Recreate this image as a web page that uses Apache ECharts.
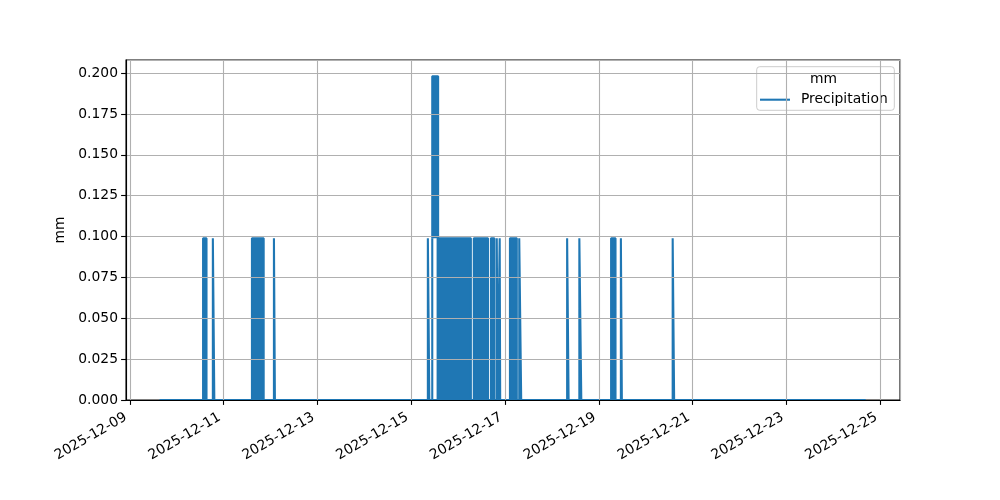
<!DOCTYPE html>
<html>
<head>
<meta charset="utf-8">
<script src="https://cdn.jsdelivr.net/npm/echarts@6/dist/echarts.min.js"></script>
<style>
html,body{margin:0;padding:0;background:#fff;}
#chart{width:1000px;height:500px;}
</style>
</head>
<body>
<div id="chart"></div>
<script>
// Precipitation record (mm): the line sits at 0 from the first to the last sample,
// and rises to the given amount during each rainy spell.
const seriesStart = '2025-12-09 15:15';
const seriesEnd = '2025-12-24 16:30';

const rainStart = ['2025-12-10 13:30','2025-12-10 18:30','2025-12-11 14:30','2025-12-12 01:45',
  '2025-12-15 08:30','2025-12-15 10:45','2025-12-15 13:30','2025-12-16 08:00','2025-12-16 16:45',
  '2025-12-16 19:45','2025-12-16 21:15','2025-12-17 02:30','2025-12-17 07:15','2025-12-18 07:45',
  '2025-12-18 14:00','2025-12-19 06:15','2025-12-19 11:15','2025-12-20 13:45'];
const rainEnd = ['2025-12-10 15:15','2025-12-10 19:15','2025-12-11 20:30','2025-12-12 02:15',
  '2025-12-15 09:15','2025-12-15 10:45','2025-12-16 06:30','2025-12-16 15:15','2025-12-16 18:30',
  '2025-12-16 20:15','2025-12-16 21:30','2025-12-17 06:00','2025-12-17 08:15','2025-12-18 08:30',
  '2025-12-18 15:00','2025-12-19 08:30','2025-12-19 11:45','2025-12-20 14:30'];
const rainAmount = [0.099,0.099,0.099,0.099,0.099,0.099,0.099,0.099,0.099,
  0.099,0.099,0.099,0.099,0.099,0.099,0.099,0.099,0.099];

// spell that reached the higher level, sitting on top of the 0.099 level
const peakStart = ['2025-12-15 10:45'];
const peakEnd = ['2025-12-15 13:45'];
const peakAmount = [0.198];
const peakBase = 0.099;

const xMin = '2025-12-08 22:04';
const xMax = '2025-12-25 10:03';

// build line tables
const baseData = [[seriesStart, 0]];
for (let i = 0; i < rainStart.length; i++) {
  baseData.push([rainStart[i], 0], [rainStart[i], rainAmount[i]], [rainEnd[i], rainAmount[i]], [rainEnd[i], 0]);
}
baseData.push([seriesEnd, 0]);

const peakData = [];
for (let i = 0; i < peakStart.length; i++) {
  peakData.push([peakStart[i], peakBase], [peakStart[i], peakAmount[i]], [peakEnd[i], peakAmount[i]], [peakEnd[i], peakBase]);
}

const FONT = 'DejaVu Sans';
const FS = 13.89;
const BLUE = '#1f77b4';
const LW = 2.08;
const DAY = 86400000;

const chart = echarts.init(document.getElementById('chart'), null, {renderer: 'canvas'});
chart.setOption({
  animation: false,
  backgroundColor: '#ffffff',
  textStyle: {fontFamily: FONT},
  grid: {left: 126, right: 100, top: 60, bottom: 100, show: true, borderColor: '#000', borderWidth: 1.1, backgroundColor: 'transparent'},
  title: {
    text: 'mm', left: 810, top: 72, padding: 0,
    textStyle: {fontFamily: FONT, fontSize: FS, fontWeight: 'normal', color: '#000'}
  },
  legend: {
    left: 756.7, top: 66.7, orient: 'vertical',
    padding: [26, 6.6, 3.6, 3.3],
    backgroundColor: 'rgba(255,255,255,0.8)',
    borderColor: '#cccccc', borderWidth: 1, borderRadius: 3,
    itemWidth: 30, itemHeight: LW,
    icon: 'rect',
    textStyle: {fontFamily: FONT, fontSize: FS, color: '#000', padding: [0, 0, 0, 6]},
    data: [{name: 'Precipitation', icon: 'rect', itemStyle: {color: BLUE}}]
  },
  xAxis: {
    type: 'time', min: xMin, max: xMax, z: 5,
    splitNumber: 8, minInterval: 2 * DAY, maxInterval: 2 * DAY,
    axisLine: {lineStyle: {color: '#000', width: 1.1}},
    axisTick: {show: true, length: 4.9, lineStyle: {color: '#000', width: 1.1}},
    splitLine: {show: true, lineStyle: {color: '#b0b0b0', width: 1.1}},
    axisLabel: {
      rotate: 30, margin: 14, padding: [0, 4.6, 0, 0],
      showMinLabel: false, showMaxLabel: false,
      fontFamily: FONT, fontSize: FS, color: '#000',
      formatter: function (v) { return echarts.time.format(v, '{yyyy}-{MM}-{dd}', false); }
    }
  },
  yAxis: {
    type: 'value', min: 0, max: 0.208, interval: 0.025, z: 5,
    name: 'mm', nameLocation: 'middle', nameGap: 56,
    nameTextStyle: {fontFamily: FONT, fontSize: FS, color: '#000'},
    axisLine: {show: true, lineStyle: {color: '#000', width: 1.1}},
    axisTick: {show: true, length: 4.9, lineStyle: {color: '#000', width: 1.1}},
    splitLine: {show: true, lineStyle: {color: '#b0b0b0', width: 1.1}},
    axisLabel: {
      margin: 8, showMaxLabel: false,
      fontFamily: FONT, fontSize: FS, color: '#000',
      formatter: function (v) { return v.toFixed(3); }
    }
  },
  series: [
    {
      name: 'Precipitation', type: 'line', data: baseData,
      showSymbol: false, symbol: 'none',
      lineStyle: {color: BLUE, width: LW},
      itemStyle: {color: BLUE},
      areaStyle: {color: BLUE, opacity: 1},
      z: 2
    },
    {
      name: 'Precipitation', type: 'line', data: peakData,
      showSymbol: false, symbol: 'none',
      lineStyle: {color: BLUE, width: LW},
      itemStyle: {color: BLUE},
      areaStyle: {color: BLUE, opacity: 1, origin: peakBase},
      z: 2
    }
  ]
});
</script>
</body>
</html>
